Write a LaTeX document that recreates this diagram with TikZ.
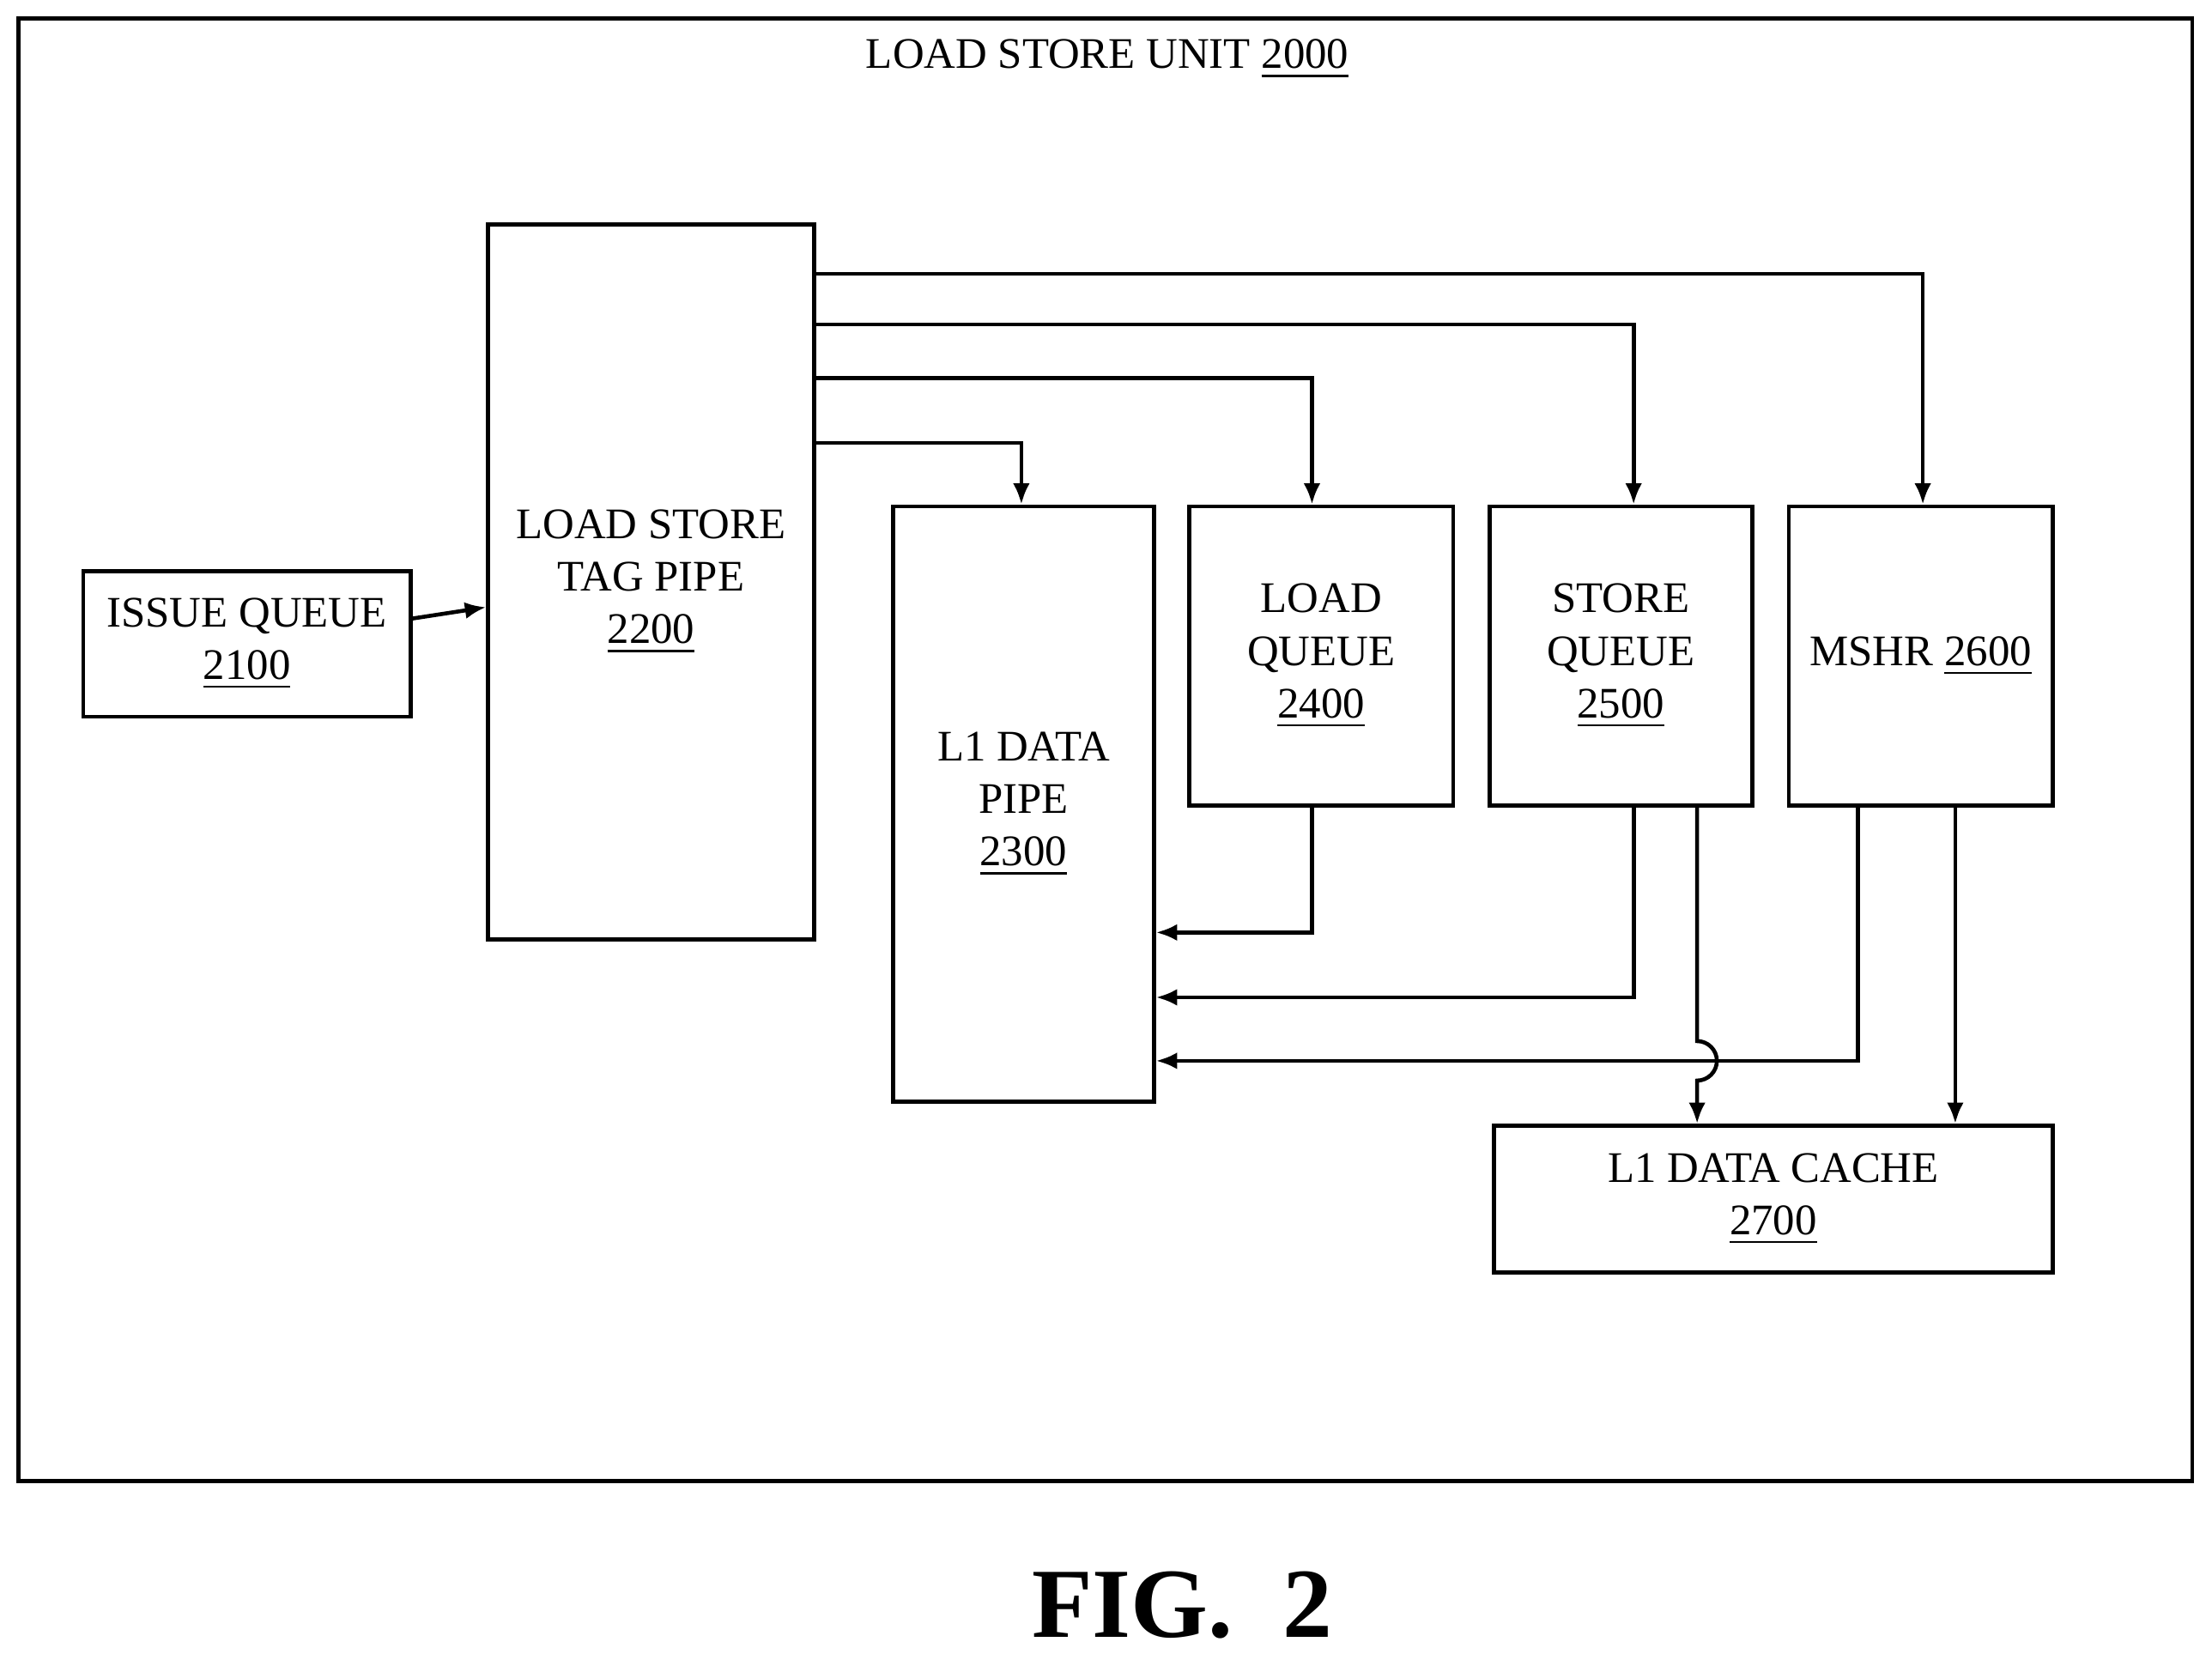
\documentclass[tikz,border=0pt]{standalone}
\usepackage{fontspec}
\setmainfont{Liberation Serif}
\usetikzlibrary{arrows.meta}
\begin{document}
\begin{tikzpicture}\tikzstyle{every node}=[font=\fontsize{8.8}{10.6}\selectfont, align=center]
\tikzset{blk/.style={draw, line width=0.8pt, inner sep=0pt}, arr/.style={line width=0.8pt, -{Latex[length=0.15cm,width=0.12cm]}}}
\useasboundingbox (0,0) rectangle (15.68,-11.72);
\draw[line width=0.8pt] (0.13,-0.13) rectangle (15.54,-10.50);
\node (title) at (7.85,-0.42) {LOAD STORE UNIT \underline{2000}};
%%%%%%%%%%%%%
\node[blk, minimum width=2.32cm, minimum height=1.03cm] (iq) at (1.75,-4.565) {ISSUE QUEUE\\\underline{2100}};
\node[blk, minimum width=2.31cm, minimum height=5.07cm] (tag) at (4.615,-4.125) {LOAD STORE\\TAG PIPE\\\underline{2200}};
\node[blk, minimum width=1.85cm, minimum height=4.22cm] (pipe) at (7.255,-5.70) {L1 DATA\\PIPE\\\underline{2300}};
\node[blk, minimum width=1.87cm, minimum height=2.12cm] (lq) at (9.365,-4.65) {LOAD\\QUEUE\\\underline{2400}};
\node[blk, minimum width=1.86cm, minimum height=2.12cm] (sq) at (11.49,-4.65) {STORE\\QUEUE\\\underline{2500}};
\node[blk, minimum width=1.87cm, minimum height=2.12cm] (mshr) at (13.615,-4.65) {MSHR \underline{2600}};
\node[blk, minimum width=3.96cm, minimum height=1.04cm] (cache) at (12.57,-8.50) {L1 DATA CACHE\\\underline{2700}};
%%%%%%%%%%%%%
\coordinate (r1) at (0,-1.94); \coordinate (r2) at (0,-2.30); \coordinate (r3) at (0,-2.68); \coordinate (r4) at (0,-3.14);
\coordinate (b1) at (0,-6.61); \coordinate (b2) at (0,-7.07); \coordinate (b3) at (0,-7.52);
\coordinate (c1) at (7.24,0); \coordinate (c2) at (9.30,0); \coordinate (c3) at (11.58,0); \coordinate (c4) at (13.63,0);
\coordinate (c5) at (12.03,0); \coordinate (c6) at (13.17,0); \coordinate (c7) at (13.86,0);
%%%%%%%%%%%%%
\draw[arr] (iq) -- (tag);
\draw[arr] (tag.east |- r1) -| (c4 |- mshr.north);
\draw[arr] (tag.east |- r2) -| (c3 |- sq.north);
\draw[arr] (tag.east |- r3) -| (c2 |- lq.north);
\draw[arr] (tag.east |- r4) -| (c1 |- pipe.north);
\draw[arr] (c2 |- lq.south) |- (pipe.east |- b1);
\draw[arr] (c3 |- sq.south) |- (pipe.east |- b2);
\draw[arr] (c6 |- mshr.south) |- (pipe.east |- b3);
\draw[arr] (c5 |- sq.south) -- ([yshift=0.14cm]c5 |- b3) arc[start angle=90, end angle=-90, radius=0.14cm] -- (c5 |- cache.north);
\draw[arr] (c7 |- mshr.south) -- (c7 |- cache.north);
%%%%%%%%%%%%%
\node[font=\fontsize{20}{24}\selectfont\bfseries] (fig) at (8.38,-11.38) {FIG.\ \ 2};
\end{tikzpicture}
\end{document}
